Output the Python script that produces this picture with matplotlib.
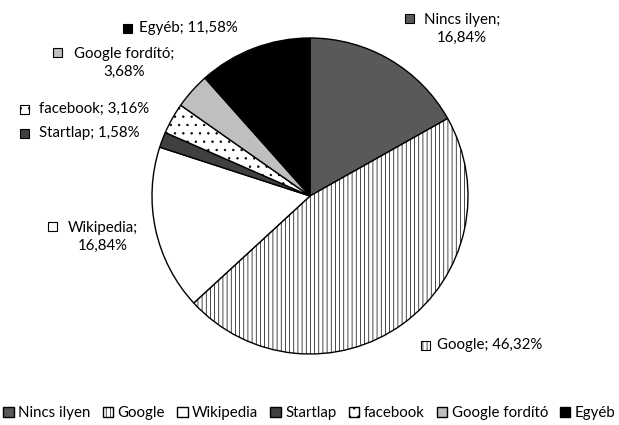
import matplotlib.pyplot as plt
from matplotlib.patches import Rectangle

plt.rcParams['font.family'] = ['Lato', 'DejaVu Sans']
plt.rcParams['hatch.linewidth'] = 0.5

categories = ['Nincs ilyen', 'Google', 'Wikipedia', 'Startlap', 'facebook', 'Google fordító', 'Egyéb']
shares = [16.84, 46.32, 16.84, 1.58, 3.16, 3.68, 11.58]
label_text = ['16,84%', '46,32%', '16,84%', '1,58%', '3,16%', '3,68%', '11,58%']
colors = ['#595959', 'white', 'white', '#404040', 'white', '#bfbfbf', 'black']
hatches = [None, '||||', None, None, '..', None, None]

fig = plt.figure(figsize=(6.19, 4.25), dpi=100)
ax = fig.add_axes([0, 0, 1, 1])

# y axis is inverted below, so counterclock in data = clockwise on screen
wedges, _ = ax.pie(shares, colors=colors, startangle=-90, counterclock=True,
                   center=(310, 196), radius=158, frame=True,
                   wedgeprops=dict(edgecolor='black', linewidth=1))
for w, h in zip(wedges, hatches):
    if h:
        w.set_hatch(h)
ax.set_xlim(0, 619)
ax.set_ylim(425, 0)
ax.set_aspect('auto')
ax.axis('off')

fs = 10.8
def key(x, y, i):
    ax.add_patch(Rectangle((x, y - 4.5), 9, 9, facecolor=colors[i], edgecolor='black',
                           hatch=hatches[i], linewidth=0.8))

# data labels (key square + text)
key(405, 18, 0)
ax.text(462, 29, categories[0] + ';\n' + label_text[0], ha='center', va='center',
        multialignment='center', fontsize=fs, linespacing=1.35)
key(421, 345, 1)
ax.text(437, 345, categories[1] + '; ' + label_text[1], ha='left', va='center', fontsize=fs)
key(48, 226, 2)
ax.text(103, 237, categories[2] + ';\n' + label_text[2], ha='center', va='center',
        multialignment='center', fontsize=fs, linespacing=1.35)
key(20, 133, 3)
ax.text(39, 133, categories[3] + '; ' + label_text[3], ha='left', va='center', fontsize=fs)
key(20, 109, 4)
ax.text(39, 109, categories[4] + '; ' + label_text[4], ha='left', va='center', fontsize=fs)
key(53, 52, 5)
ax.text(124, 63, categories[5] + ';\n' + label_text[5], ha='center', va='center',
        multialignment='center', fontsize=fs, linespacing=1.35)
key(123, 28, 6)
ax.text(139, 28, categories[6] + '; ' + label_text[6], ha='left', va='center', fontsize=fs)

leg = ax.legend(wedges, categories, loc='center', bbox_to_anchor=(0.5, 1 - 413 / 425),
                ncol=7, frameon=False, fontsize=fs, handlelength=0.7, handleheight=0.7,
                handletextpad=0.3, columnspacing=0.8, borderpad=0)

fig.savefig('out.png', dpi=100)
